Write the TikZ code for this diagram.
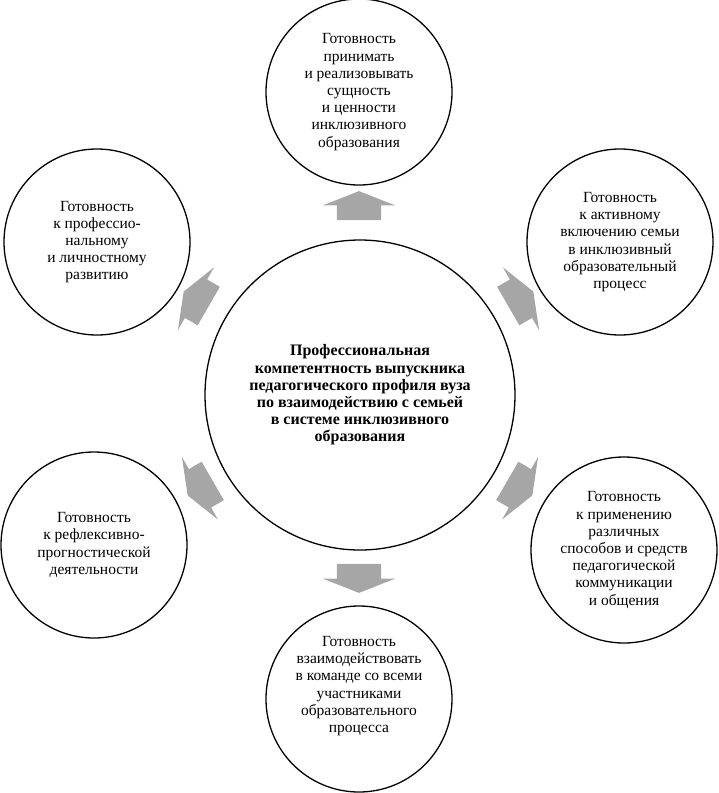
\documentclass[tikz,border=0pt]{standalone}
\usepackage{fontspec}
\setmainfont{Liberation Serif}
\usetikzlibrary{shapes.arrows}

\begin{document}
\begin{tikzpicture}[x=1pt,y=-1pt,
        ready/.style={circle, draw, line width=1.3pt, minimum size=186pt, inner sep=0pt, align=center, font=\fontsize{15.5}{17.2}\selectfont},
        core/.style={circle, draw, line width=1.3pt, minimum size=310pt, inner sep=0pt, align=center, font=\fontsize{16}{17.2}\selectfont\bfseries},
        block/.style={single arrow, fill=black!35, draw=none, minimum height=29pt, inner xsep=0pt, inner ysep=22pt, single arrow head extend=14pt, single arrow tip angle=137}]
    \useasboundingbox (0,0) rectangle (718,793);
    \node[core] (core) at (360,395) {Профессиональная\\компетентность выпускника\\педагогического профиля вуза\\по взаимодействию с семьей\\в системе инклюзивного\\образования};
    \node[ready] (values) at (359,92) {Готовность\\принимать\\и реализовывать\\сущность\\и ценности\\инклюзивного\\образования};
    \node[ready] (family) at (620,242) {Готовность\\к активному\\включению семьи\\в инклюзивный\\образовательный\\процесс};
    \node[ready] (communication) at (624,550) {Готовность\\к применению\\различных\\способов и средств\\педагогической\\коммуникации\\и общения};
    \node[ready] (team) at (359,699) {};
    \node[align=center, font=\fontsize{15.5}{17.2}\selectfont] (teamtext) at ([yshift=13pt]team.center) {Готовность\\взаимодействовать\\в команде со всеми\\участниками\\образовательного\\процесса};
    \node[ready] (reflection) at (94,545) {Готовность\\к рефлексивно-\\прогностической\\деятельности};
    \node[ready] (growth) at (97,242) {Готовность\\к профессио-\\нальному\\и личностному\\развитию};
    \node[block, rotate=90] (tovalues) at (359,210) {};
    \node[block, rotate=30] (tofamily) at (517,301) {};
    \node[block, rotate=-30] (tocommunication) at (516,486) {};
    \node[block, rotate=-90] (toteam) at (359,574) {};
    \node[block, rotate=-150] (toreflection) at (204,486) {};
    \node[block, rotate=150] (togrowth) at (200,301) {};
\end{tikzpicture}
\end{document}
